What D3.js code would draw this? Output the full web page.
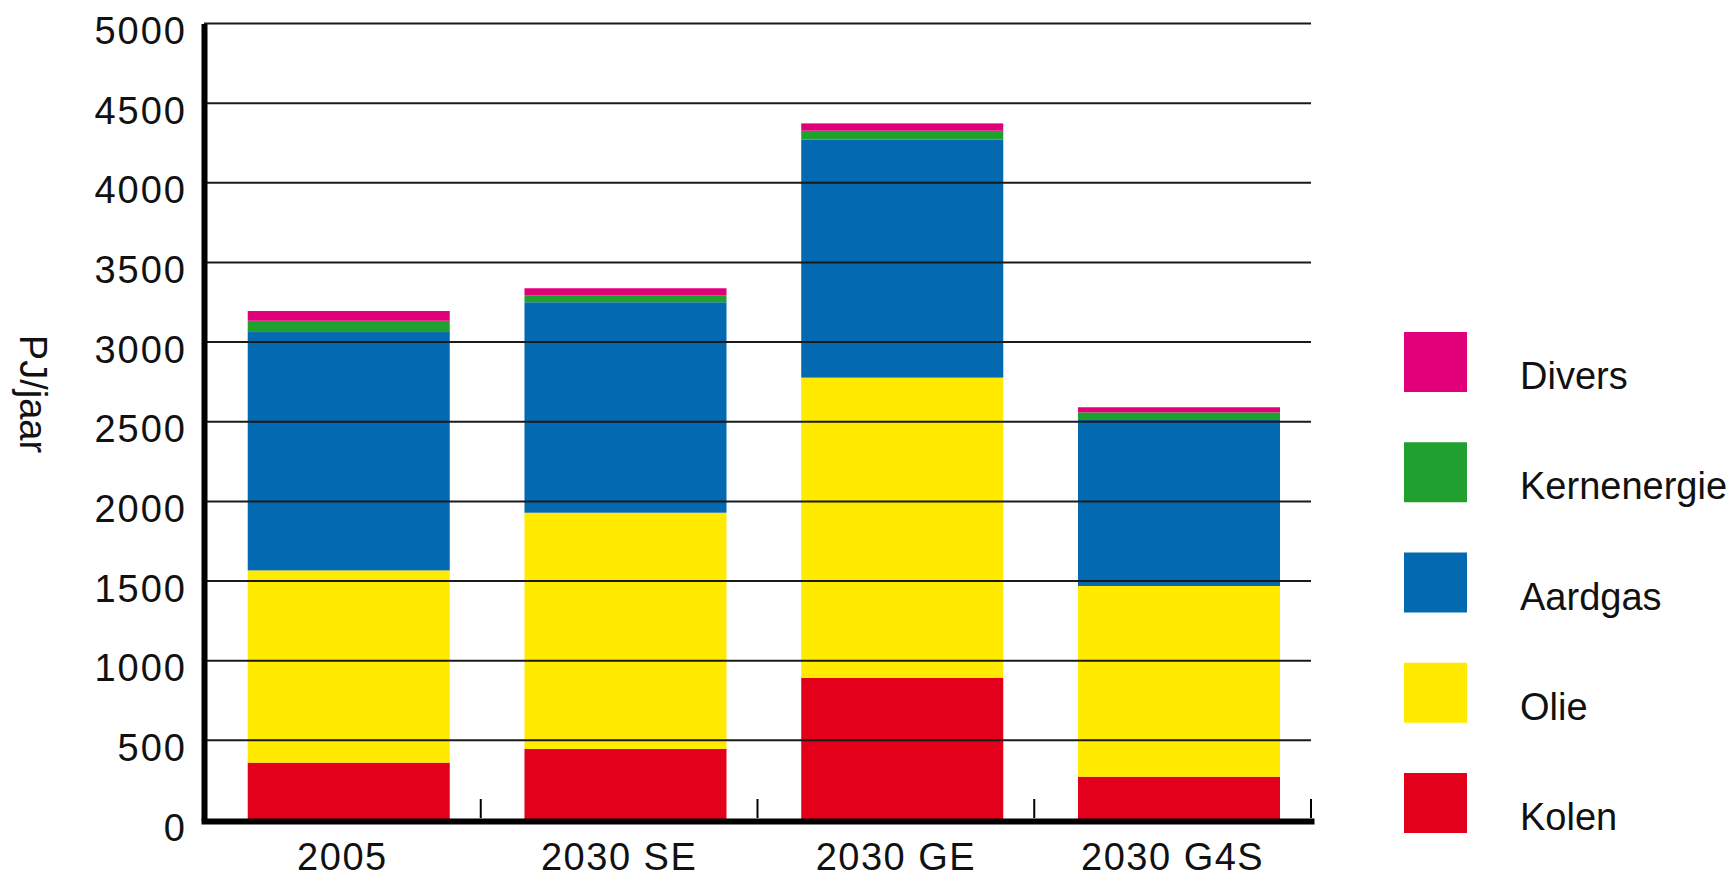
<!DOCTYPE html>
<html>
<head>
<meta charset="utf-8">
<script src="https://cdn.jsdelivr.net/npm/d3@7"></script>
<style>
  html, body { margin: 0; padding: 0; background: #fff; }
  svg { display: block; }
  text { font-family: "Liberation Sans", Arial, Helvetica, sans-serif; fill: #111; }
</style>
</head>
<body>
<svg id="chart" width="1729" height="877"></svg>
<script>
// categories (x axis)
const categories = ["2005", "2030 SE", "2030 GE", "2030 G4S"];

// series values, PJ/jaar (stacked bottom -> top)
const kolen       = [360, 446, 893, 272];
const olie        = [1207, 1483, 1884, 1197];
const aardgas     = [1496, 1321, 1494, 1042];
const kernenergie = [71, 44, 56, 48];
const divers      = [61, 44, 46, 32];

const seriesNames  = ["Kolen", "Olie", "Aardgas", "Kernenergie", "Divers"];
const seriesColors = ["#e2001a", "#ffea00", "#0369b1", "#20a02e", "#e2007a"];
const yTicks = [0, 500, 1000, 1500, 2000, 2500, 3000, 3500, 4000, 4500, 5000];
const yLabel = "PJ/jaar";

// table for d3.stack
const seriesValues = [kolen, olie, aardgas, kernenergie, divers];
const rows = categories.map((c, i) => {
  let r = { cat: c };
  seriesNames.forEach((s, j) => { r[s] = seriesValues[j][i]; });
  return r;
});

const svg = d3.select("#chart");
const plotLeft = 204, plotRight = 1311, plotBottom = 820, plotTop = 23.5;

// scales
const x = d3.scaleBand().domain(categories).range([plotLeft, plotRight]).padding(0);
const y = d3.scaleLinear().domain([0, 5000]).range([plotBottom, plotTop]);
const color = d3.scaleOrdinal().domain(seriesNames).range(seriesColors);

// stacked bars (bars sit a bit right of the band centre, as in the original)
const stacked = d3.stack().keys(seriesNames)(rows);
const barOffset = 0.158, barWidth = 0.73;

svg.append("g")
  .selectAll("g")
  .data(stacked)
  .join("g")
  .attr("fill", d => color(d.key))
  .selectAll("rect")
  .data(d => d)
  .join("rect")
  .attr("x", d => x(d.data.cat) + x.bandwidth() * barOffset)
  .attr("y", d => y(d[1]))
  .attr("width", x.bandwidth() * barWidth)
  .attr("height", d => y(d[0]) - y(d[1]));

// horizontal grid lines drawn over the bars
svg.append("g")
  .selectAll("line")
  .data(yTicks.filter(t => t > 0))
  .join("line")
  .attr("x1", plotLeft)
  .attr("x2", plotRight)
  .attr("y1", d => y(d))
  .attr("y2", d => y(d))
  .attr("stroke", "#1a1a1a")
  .attr("stroke-width", 2);

// y axis
const yAxis = svg.append("g")
  .attr("transform", `translate(${plotLeft},0)`)
  .call(d3.axisLeft(y).tickValues(yTicks).tickFormat(d3.format("d"))
    .tickSize(0).tickSizeOuter(0).tickPadding(17));
yAxis.select(".domain").attr("stroke", "#000").attr("stroke-width", 6);
yAxis.selectAll("text")
  .attr("dy", "0.53em")
  .style("font-size", "38px")
  .style("letter-spacing", "2px")
  .attr("fill", "#111");

// x axis
const xAxis = svg.append("g")
  .attr("transform", `translate(0,${plotBottom + 1})`)
  .call(d3.axisBottom(x).tickSize(0).tickSizeOuter(0).tickPadding(22));
xAxis.select(".domain")
  .attr("stroke", "#000")
  .attr("stroke-width", 6)
  .attr("stroke-linecap", "square");
xAxis.selectAll("text")
  .style("font-size", "38px")
  .style("letter-spacing", "1.5px")
  .attr("fill", "#111");

// small tick marks between the categories
svg.append("g")
  .selectAll("line")
  .data(d3.range(1, categories.length + 1))
  .join("line")
  .attr("x1", i => plotLeft + i * x.step())
  .attr("x2", i => plotLeft + i * x.step())
  .attr("y1", plotBottom - 2)
  .attr("y2", plotBottom - 21)
  .attr("stroke", "#000")
  .attr("stroke-width", 2);

// y axis title
svg.append("text")
  .attr("transform", "translate(20,394) rotate(90)")
  .attr("text-anchor", "middle")
  .style("font-size", "38px")
  .text(yLabel);

// legend (top -> bottom: Divers ... Kolen)
const legendOrder = seriesNames.slice().reverse();
const ly = d3.scalePoint().domain(legendOrder).range([362, 803]);
const legend = svg.append("g")
  .selectAll("g")
  .data(legendOrder)
  .join("g")
  .attr("transform", d => `translate(1404,${ly(d)})`);

legend.append("rect")
  .attr("x", 0)
  .attr("y", -30)
  .attr("width", 63)
  .attr("height", 60)
  .attr("fill", d => color(d));

legend.append("text")
  .attr("x", 116)
  .attr("y", 27)
  .style("font-size", "38px")
  .text(d => d);
</script>
</body>
</html>
